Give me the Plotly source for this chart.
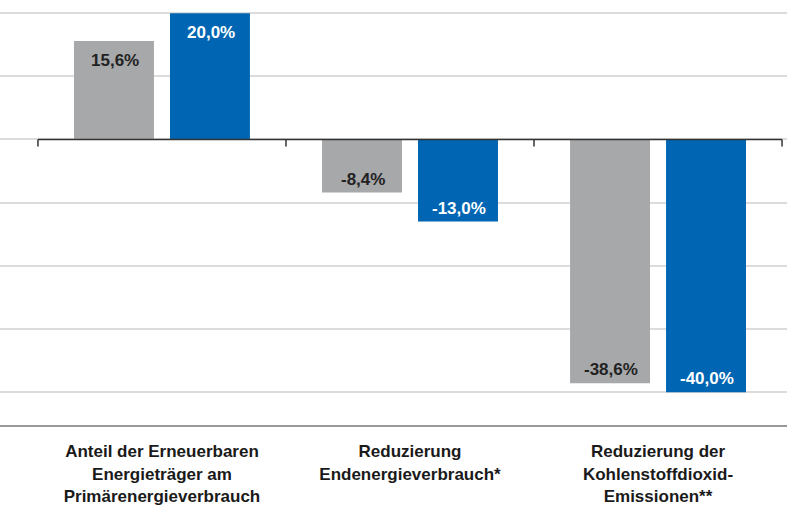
import plotly.graph_objects as go

categories = [
    "Anteil der Erneuerbaren<br>Energieträger am<br>Primärenergieverbrauch",
    "Reduzierung<br>Endenergieverbrauch*",
    "Reduzierung der<br>Kohlenstoffdioxid-<br>Emissionen**",
]
ist_values = [15.6, -8.4, -38.6]
ziel_values = [20.0, -13.0, -40.0]
grid_ticks = [-40, -30, -20, -10, 0, 10, 20]

GRAY = "#a7a8aa"
BLUE = "#0066b3"
FONT = "Liberation Sans, Arial, sans-serif"


def fmt(v):
    return f"{v:.1f}".replace(".", ",") + "%"


fig = go.Figure()
fig.add_trace(go.Bar(x=categories, y=ist_values, marker=dict(color=GRAY, line=dict(width=0)),
                     hoverinfo="skip"))
fig.add_trace(go.Bar(x=categories, y=ziel_values, marker=dict(color=BLUE, line=dict(width=0)),
                     hoverinfo="skip"))

# value labels inside the bar ends
for values, shift, color in [(ist_values, -47, "#222222"), (ziel_values, 49, "white")]:
    for cat, v in zip(categories, values):
        fig.add_annotation(
            x=cat, y=v, text=f"<b>{fmt(v)}</b>", showarrow=False,
            xshift=shift, yanchor="top" if v > 0 else "bottom",
            yshift=-8 if v > 0 else 2,
            font=dict(family=FONT, size=17, color=color),
        )

# dark zero axis with category separators
fig.add_shape(type="line", xref="x", yref="y", x0=-0.5, x1=2.5, y0=0, y1=0,
              line=dict(color="#333333", width=1.5), layer="above")
for b in [-0.5, 0.5, 1.5, 2.5]:
    fig.add_shape(type="line", xref="x", yref="y", x0=b, x1=b, y0=0, y1=-1.1,
                  line=dict(color="#333333", width=1.5), layer="above")

fig.update_layout(
    width=787, height=505,
    margin=dict(l=0, r=0, t=0, b=80),
    plot_bgcolor="white", paper_bgcolor="white",
    barmode="group", bargap=0.226, bargroupgap=0.167,
    showlegend=False,
    font=dict(family=FONT, color="#1a1a1a"),
    xaxis=dict(range=[-0.653, 2.52], showgrid=False, showline=True,
               linecolor="#999999", linewidth=2, ticks="",
               tickfont=dict(family=FONT, size=17, color="#1a1a1a"),
               tickprefix="<b>", ticksuffix="</b>", ticklabelstandoff=10),
    yaxis=dict(range=[-45.2, 22.08], tickvals=grid_ticks, showticklabels=False,
               gridcolor="#dcdcdc", gridwidth=1.5, zeroline=False),
)

fig.write_html("out.html", config={"displayModeBar": False},
               post_script="document.body.style.margin='0px';")
